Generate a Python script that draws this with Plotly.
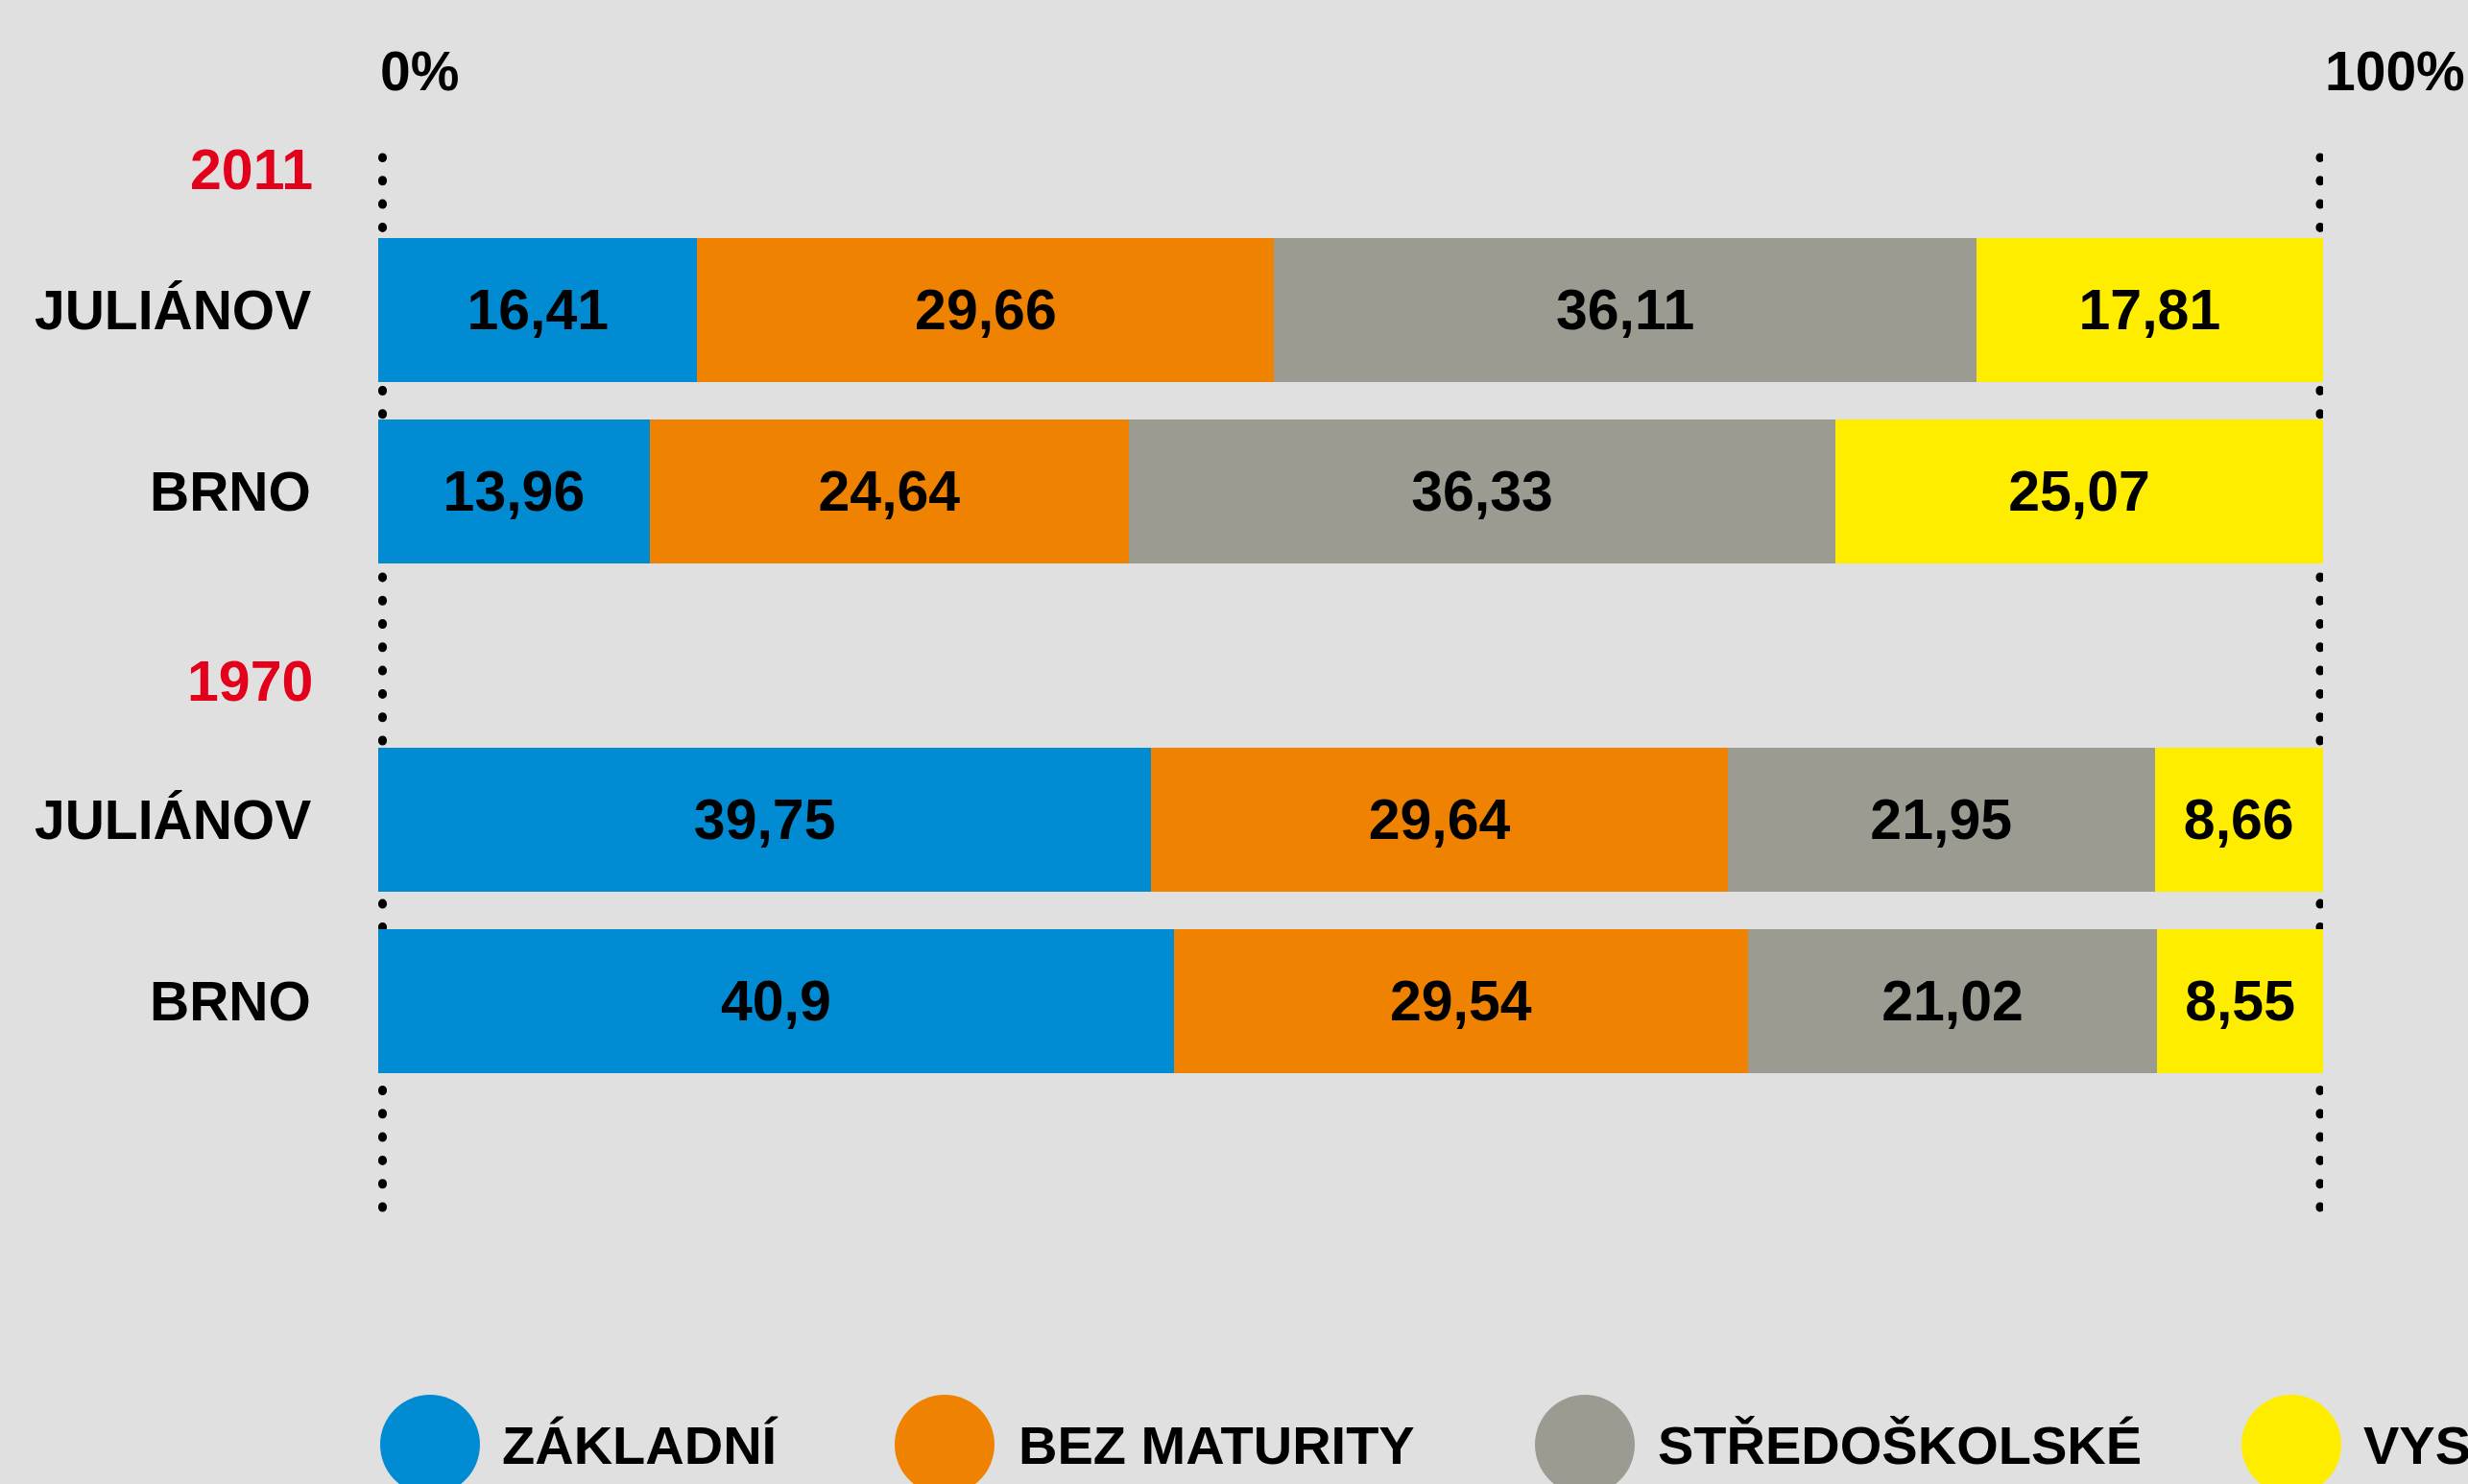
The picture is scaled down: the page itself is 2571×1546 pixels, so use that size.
import plotly.graph_objects as go
from plotly.subplots import make_subplots

# ---- data ----
education = ["ZÁKLADNÍ", "BEZ MATURITY", "STŘEDOŠKOLSKÉ", "VYSOKOŠKOLSKÉ"]
places = ["JULIÁNOV", "BRNO"]
years = ["2011", "1970"]

zakladni_2011 = [16.41, 13.96]
bez_maturity_2011 = [29.66, 24.64]
stredoskolske_2011 = [36.11, 36.33]
vysokoskolske_2011 = [17.81, 25.07]

zakladni_1970 = [39.75, 40.9]
bez_maturity_1970 = [29.64, 29.54]
stredoskolske_1970 = [21.95, 21.02]
vysokoskolske_1970 = [8.66, 8.55]

axis_ticks = [0, 100]
axis_ticktext = ["0%", "100%"]

series = {
    "2011": [zakladni_2011, bez_maturity_2011, stredoskolske_2011, vysokoskolske_2011],
    "1970": [zakladni_1970, bez_maturity_1970, stredoskolske_1970, vysokoskolske_1970],
}

# ---- styles ----
W, H = 2571, 1546
colors = ["#008BD2", "#EF8200", "#9B9B92", "#FFED00"]
BG = "#E0E0E0"
RED = "#E2001A"
FONT = "Liberation Sans, Arial, sans-serif"


def px_x(p):
    return p / W


def px_y(p):
    return 1 - p / H


x_dom = [px_x(394), px_x(2420)]
y_doms = [[px_y(606.5), px_y(228.5)], [px_y(1137.5), px_y(759.5)]]

fig = make_subplots(rows=2, cols=1, shared_xaxes=False)

for r, yr in enumerate(years, start=1):
    for i, name in enumerate(education):
        vals = series[yr][i]
        fig.add_trace(
            go.Bar(
                y=places,
                x=vals,
                orientation="h",
                name=name,
                marker=dict(color=colors[i], line=dict(width=0)),
                text=[f"{v}".replace(".", ",") for v in vals],
                textposition="inside",
                insidetextanchor="middle",
                textangle=0,
                constraintext="none",
                textfont=dict(family=FONT, size=59, color="black", weight="bold"),
                showlegend=False,
                hoverinfo="skip",
            ),
            row=r,
            col=1,
        )

fig.update_layout(
    width=W,
    height=H,
    margin=dict(l=0, r=0, t=0, b=0),
    paper_bgcolor=BG,
    plot_bgcolor="rgba(0,0,0,0)",
    barmode="stack",
    bargap=0.206,
    showlegend=False,
)

for r in (1, 2):
    fig.update_xaxes(
        domain=x_dom, range=[0, 100], visible=False, showgrid=False, zeroline=False, row=r, col=1
    )
    fig.update_yaxes(
        domain=y_doms[r - 1],
        type="category",
        categoryorder="array",
        categoryarray=places,
        range=[1.5, -0.5],
        visible=False,
        showgrid=False,
        zeroline=False,
        row=r,
        col=1,
    )

shapes = []
annotations = []

# dotted guides at 0% and 100%
guide_offset_px = [4.5, -3]
for xv, off in zip(axis_ticks, guide_offset_px):
    shapes.append(
        dict(
            type="line",
            xref="x",
            yref="paper",
            xsizemode="pixel",
            xanchor=xv,
            x0=off,
            x1=off,
            y0=px_y(1258),
            y1=px_y(164),
            line=dict(color="black", width=9, dash="1px,23.3px"),
            layer="below",
        )
    )

# axis end labels
for xv, t in zip(axis_ticks, axis_ticktext):
    annotations.append(
        dict(
            xref="x",
            yref="paper",
            x=xv,
            y=px_y(74),
            text=t,
            showarrow=False,
            xanchor="left",
            yanchor="middle",
            font=dict(family=FONT, size=57, color="black", weight="bold"),
        )
    )

# year headers
year_y = [177, 710]
for yr, yp in zip(years, year_y):
    annotations.append(
        dict(
            xref="paper",
            yref="paper",
            x=px_x(328),
            y=px_y(yp),
            text=yr,
            showarrow=False,
            xanchor="right",
            yanchor="middle",
            font=dict(family=FONT, size=59, color=RED, weight="bold"),
        )
    )

# row labels
for r, yref in zip((1, 2), ("y", "y2")):
    for pl in places:
        annotations.append(
            dict(
                xref="paper",
                yref=yref,
                x=px_x(326),
                y=pl,
                text=pl,
                showarrow=False,
                xanchor="right",
                yanchor="middle",
                font=dict(family=FONT, size=57, color="black", weight="bold"),
            )
        )

# legend (circles + labels)
leg_circle_x = [448, 984, 1651, 2387]
leg_text_x = [521, 1059, 1725, 2460]
leg_y = 1505
rad = 52
for i, name in enumerate(education):
    cx = leg_circle_x[i]
    shapes.append(
        dict(
            type="circle",
            xref="paper",
            yref="paper",
            x0=px_x(cx - rad),
            x1=px_x(cx + rad),
            y0=px_y(leg_y + rad),
            y1=px_y(leg_y - rad),
            fillcolor=colors[i],
            line=dict(width=0),
        )
    )
    annotations.append(
        dict(
            xref="paper",
            yref="paper",
            x=px_x(leg_text_x[i]),
            y=px_y(leg_y),
            text=name,
            showarrow=False,
            xanchor="left",
            yanchor="middle",
            font=dict(family=FONT, size=56, color="black", weight="bold"),
        )
    )

fig.update_layout(shapes=shapes, annotations=annotations)

fig.write_html(
    "out.html",
    config={"displayModeBar": False},
    post_script=(
        "document.body.style.margin='0';document.body.style.overflow='hidden';"
        "document.querySelectorAll('.shapelayer path').forEach(function(p){p.style.strokeLinecap='round';});"
    ),
)
